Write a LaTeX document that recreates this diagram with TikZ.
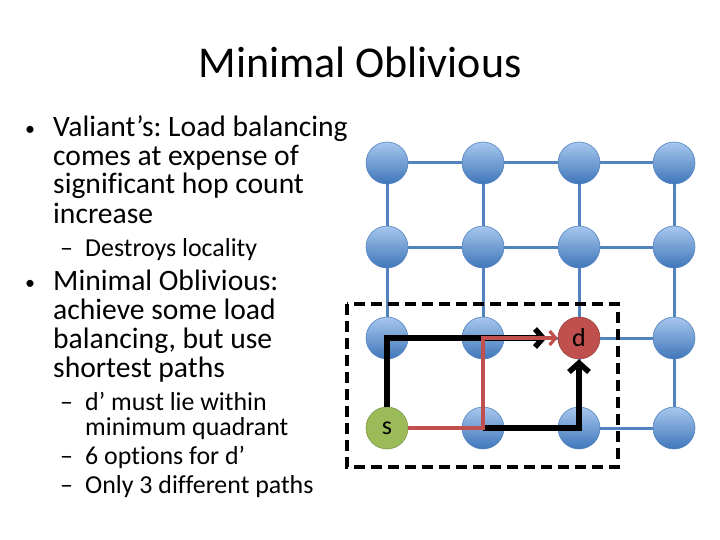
\documentclass[tikz,border=0pt]{standalone}
\usepackage{fontspec}
\setmainfont{Carlito}[Ligatures=NoCommon]
\frenchspacing
\usetikzlibrary{arrows.meta}
\definecolor{linkblue}{HTML}{5283BE}
\definecolor{toplight}{HTML}{A7C7EE}
\definecolor{botdark}{HTML}{3F76BA}
\definecolor{srcgreen}{HTML}{9BBB59}
\definecolor{dstred}{HTML}{C0504D}
\tikzset{
  router/.style={circle, minimum size=42pt, inner sep=0pt, draw=linkblue, line width=0.6pt,
    top color=toplight, bottom color=botdark},
  link/.style={draw=linkblue, line width=3pt},
  bul/.style={anchor=base west, align=left, inner sep=0pt, font=\fontsize{29.6}{29}\selectfont},
  subbul/.style={anchor=base west, align=left, inner sep=0pt, font=\fontsize{25.9}{25}\selectfont},
  dot/.style={anchor=base west, inner sep=0pt, font=\fontsize{20}{20}\selectfont},
  route/.style={draw=black, line width=5.5pt},
  altroute/.style={draw=dstred, line width=3.2pt}
}
\begin{document}
\begin{tikzpicture}[x=1pt,y=-1pt]
  \useasboundingbox (0,0) rectangle (720,540);
  % title
  \node[anchor=base, inner sep=0pt, font=\fontsize{44}{52}\selectfont] (title) at (360,78) {Minimal Oblivious};
  % bullets (placed by the baseline of their last line)
  \node[dot] (dot1) at (25,136) {•};
  \node[bul] (b1) at (53,223) {Valiant’s: Load balancing\\comes at expense of\\significant hop count\\increase};
  \node[subbul] (dash1) at (60,256) {–};
  \node[subbul] (s1) at (85,256) {Destroys locality};
  \node[dot] (dot2) at (25,289) {•};
  \node[bul] (b2) at (53,377) {Minimal Oblivious:\\achieve some load\\balancing, but use\\shortest paths};
  \node[subbul] (dash2) at (60,410) {–};
  \node[subbul] (s2) at (85,435) {d’ must lie within\\minimum quadrant};
  \node[subbul] (dash3) at (60,464) {–};
  \node[subbul] (s3) at (85,464) {6 options for d’};
  \node[subbul] (dash4) at (60,493) {–};
  \node[subbul] (s4) at (85,493) {Only 3 different paths};
  % mesh
  \foreach \c/\x in {1/387,2/483,3/579,4/674}
    \foreach \r/\y in {1/163,2/247,3/338,4/428}{
      \ifnum\c\r=14 \else\ifnum\c\r=33 \else
        \node[router] (n\c\r) at (\x,\y) {};
      \fi\fi
    }
  \node[router, draw=srcgreen!80!black, top color=srcgreen, bottom color=srcgreen, alias=n14,
    font=\fontsize{26}{28}\selectfont] (s) at (387,428) {s};
  \node[router, draw=dstred!80!black, top color=dstred, bottom color=dstred, alias=n33,
    font=\fontsize{26}{28}\selectfont] (d) at (579,338) {d};
  \foreach \r in {1,2,3,4}
    \foreach \c/\cn in {1/2,2/3,3/4}
      \draw[link] (n\c\r) -- (n\cn\r);
  \foreach \c in {1,2,3,4}
    \foreach \r/\rn in {1/2,2/3,3/4}
      \draw[link] (n\c\r) -- (n\c\rn);
  % minimum quadrant
  \draw[line width=3.4pt, dash pattern=on 11pt off 6pt] (347,304) rectangle (618,467);
  % routes
  \draw[route, -{Straight Barb[length=8pt,width=18pt]}, shorten >=11pt] (s.north) |- (d.west);
  \draw[route, -{Straight Barb[length=9pt,width=20pt]}] (n24.center) -| (d.south);
  \draw[altroute, -{Straight Barb[length=6pt,width=14pt]}] (s.east) -- (n24.center) -- (n23.center) -- (d.west);
\end{tikzpicture}
\end{document}
